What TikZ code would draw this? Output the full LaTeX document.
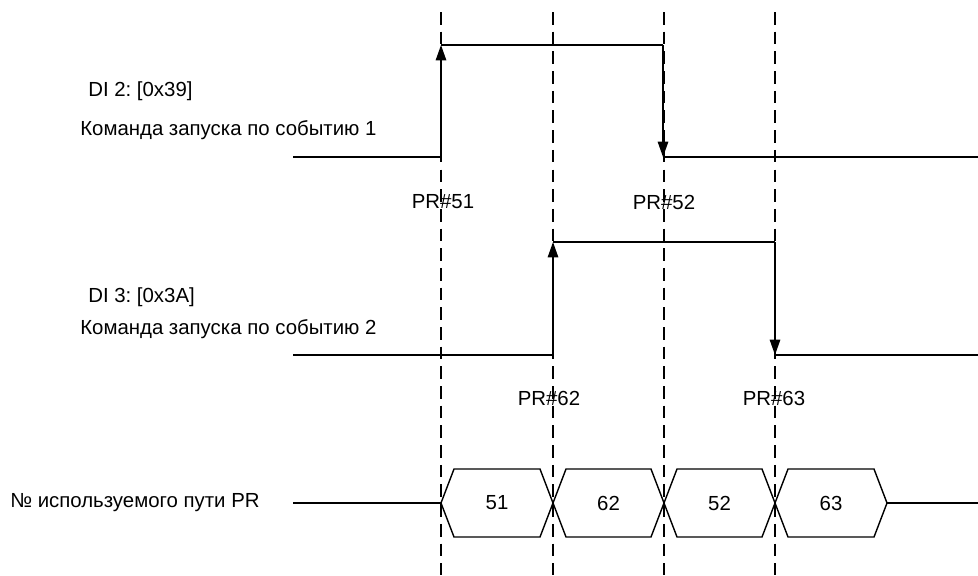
\documentclass[tikz,border=0pt]{standalone}
\usepackage{fontspec}
\setmainfont{Liberation Sans}
\usepackage{tikz}
\usetikzlibrary{arrows.meta}
\frenchspacing
\tikzset{signal/.style={line width=1pt},
 edge/.style={signal,-{Triangle[length=11pt,width=7.5pt]}},
 guide/.style={line width=0.9pt,dash pattern=on 9pt off 5pt},
 every node/.style={font=\fontsize{14.5}{17}\selectfont,inner sep=0pt}}

\begin{document}
\begin{tikzpicture}[x=0.025cm,y=-0.025cm]
\useasboundingbox (0,0) rectangle (978,575);
% time marks
\foreach \x [count=\i] in {441,553,664,775}
  \draw[guide] (\x,12) coordinate (g\i) -- (\x,575);
% DI 2
\node[anchor=west] (di2) at (88,91) {DI 2: [0x39]};
\node[anchor=west] (cmd1) at (80,130) {Команда запуска по событию 1};
\coordinate (a0) at (293,157); \coordinate (a1) at (441,157);
\coordinate (a2) at (441,45); \coordinate (a3) at (663,45);
\coordinate (a4) at (663,157); \coordinate (a5) at (978,157);
\draw[signal] (a0)--(a1); \draw[edge] (a1)--(a2);
\draw[signal] (a2)--(a3); \draw[edge] (a3)--(a4);
\draw[signal] (a4)--(a5);
\node (pr51) at (443,202) {PR\#51};
\node (pr52) at (664,202) {PR\#52};
% DI 3
\node[anchor=west] (di3) at (88,297) {DI 3: [0x3A]};
\node[anchor=west] (cmd2) at (80,329) {Команда запуска по событию 2};
\coordinate (b0) at (293,355); \coordinate (b1) at (553,355);
\coordinate (b2) at (553,242); \coordinate (b3) at (775,242);
\coordinate (b4) at (775,355); \coordinate (b5) at (978,355);
\draw[signal] (b0)--(b1); \draw[edge] (b1)--(b2);
\draw[signal] (b2)--(b3); \draw[edge] (b3)--(b4);
\draw[signal] (b4)--(b5);
\node (pr62) at (549,398) {PR\#62};
\node (pr63) at (774,398) {PR\#63};
% path number bus
\node[anchor=west] (bus) at (10,503) {№ используемого пути PR};
\coordinate (c0) at (293,503); \coordinate (c1) at (441,503);
\coordinate (c2) at (887,503); \coordinate (c3) at (978,503);
\draw[signal] (c0)--(c1);
\foreach \a/\b/\v in {441/553/51,553/664/62,664/775/52,775/887/63}{
  \draw[signal] (\a,503) -- (\a+13,469) -- (\b-13,469) -- (\b,503)
    -- (\b-13,537) -- (\a+13,537) -- cycle;
  \node (pr\v) at ({(\a+\b)/2},503) {\v};
}
\draw[signal] (c2)--(c3);
\end{tikzpicture}
\end{document}
